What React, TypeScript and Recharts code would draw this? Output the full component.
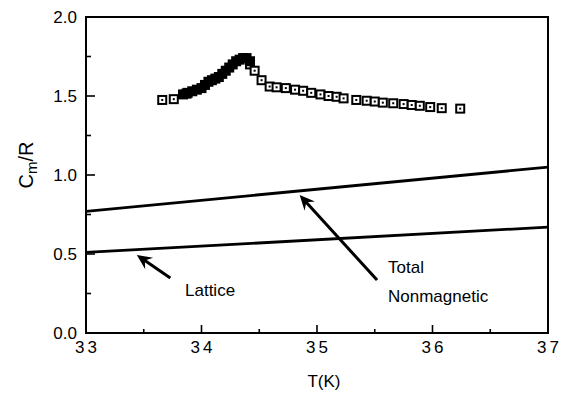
import {
  ComposedChart,
  Line,
  Scatter,
  XAxis,
  YAxis,
  ReferenceArea,
  ReferenceLine,
} from "recharts";

// open squares (T in K, Cm/R)
const openT = [
  33.66, 33.76, 33.87, 34.42, 34.46, 34.52, 34.59, 34.65, 34.73, 34.81, 34.88,
  34.95, 35.03, 35.1, 35.17, 35.23, 35.34, 35.43, 35.5, 35.57, 35.66, 35.75,
  35.82, 35.89, 35.98, 36.08, 36.24,
];
const openC = [
  1.475, 1.48, 1.515, 1.7, 1.66, 1.6, 1.56, 1.555, 1.55, 1.54, 1.533, 1.52,
  1.51, 1.5, 1.495, 1.485, 1.475, 1.47, 1.465, 1.458, 1.454, 1.449, 1.443,
  1.438, 1.43, 1.423, 1.42,
];

// filled squares
const filledT = [
  33.84, 33.88, 33.92, 33.96, 34.0, 34.03, 34.06, 34.09, 34.12, 34.15, 34.18,
  34.21, 34.24, 34.27, 34.3, 34.33, 34.36, 34.39, 34.42,
];
const filledC = [
  1.51, 1.52, 1.53, 1.54, 1.55, 1.57, 1.59, 1.6, 1.61, 1.62, 1.64, 1.66, 1.68,
  1.7, 1.72, 1.73, 1.74, 1.74, 1.72,
];

// straight lines
const lineT = [33, 37];
const totalC = [0.77, 1.05];
const latticeC = [0.51, 0.67];

const xTicks = [33, 33.5, 34, 34.5, 35, 35.5, 36, 36.5, 37];
const yTicks = [0, 0.25, 0.5, 0.75, 1, 1.25, 1.5, 1.75, 2];

// annotation arrows: tail -> head
const latticeArrow = [
  { x: 33.73, y: 0.348 },
  { x: 33.44, y: 0.494 },
];
const totalArrow = [
  { x: 35.52, y: 0.335 },
  { x: 34.85, y: 0.873 },
];

const zip = (t: number[], c: number[]) => t.map((T, i) => ({ T, C: c[i] }));
const openData = zip(openT, openC);
const filledData = zip(filledT, filledC);
const totalData = zip(lineT, totalC);
const latticeData = zip(lineT, latticeC);

const FONT = "'Liberation Sans', Arial, sans-serif";

const XTick = (props: any) => {
  const { x, y, payload } = props;
  const v = payload.value;
  const major = Number.isInteger(v);
  return (
    <g>
      <line x1={x} x2={x} y1={y} y2={y - (major ? 8 : 4)} stroke="#000" strokeWidth={1.6} />
      {major && (
        <text x={x + 1.5} y={y + 20} textAnchor="middle" fontSize={17} letterSpacing={3} fontFamily={FONT} fill="#000">
          {v}
        </text>
      )}
    </g>
  );
};

const YTick = (props: any) => {
  const { x, y, payload } = props;
  const v = payload.value;
  const major = Math.abs(v * 2 - Math.round(v * 2)) < 1e-6;
  return (
    <g>
      <line x1={x} x2={x + (major ? 9 : 5)} y1={y} y2={y} stroke="#000" strokeWidth={1.6} />
      {major && (
        <text x={x - 9} y={y + 6} textAnchor="end" fontSize={17} fontFamily={FONT} fill="#000">
          {v.toFixed(1)}
        </text>
      )}
    </g>
  );
};

const OpenSquare = (p: any) => (
  <g>
    <rect x={p.cx - 4} y={p.cy - 4} width={8} height={8} fill="#fff" stroke="#000" strokeWidth={2} />
    <rect x={p.cx - 1} y={p.cy - 1} width={2} height={2} fill="#000" />
  </g>
);

const FilledSquare = (p: any) => (
  <rect x={p.cx - 5} y={p.cy - 5} width={10} height={10} fill="#000" />
);

const Arrow = (p: any) => {
  const { x1, y1, x2, y2 } = p;
  const dx = x2 - x1;
  const dy = y2 - y1;
  const len = Math.hypot(dx, dy) || 1;
  const ux = dx / len;
  const uy = dy / len;
  const hl = 15;
  const hw = 7;
  const bx = x2 - ux * hl;
  const by = y2 - uy * hl;
  const nx = -uy;
  const ny = ux;
  const pts = `${x2},${y2} ${bx + nx * hw},${by + ny * hw} ${x2 - ux * hl * 0.65},${y2 - uy * hl * 0.65} ${bx - nx * hw},${by - ny * hw}`;
  return (
    <g>
      <line x1={x1} y1={y1} x2={x2 - ux * 8} y2={y2 - uy * 8} stroke="#000" strokeWidth={3} />
      <polygon points={pts} fill="#000" />
    </g>
  );
};

const textStyle = {
  position: "absolute" as const,
  fontFamily: FONT,
  fontSize: 17,
  color: "#000",
  lineHeight: "20px",
  whiteSpace: "nowrap" as const,
};

export default function App() {
  return (
    <div style={{ position: "absolute", left: 0, top: 0, width: 561, height: 396, background: "#fff" }}>
      <ComposedChart
        width={561}
        height={396}
        margin={{ top: 17, right: 13, bottom: 0, left: 0 }}
      >
        <XAxis
          type="number"
          dataKey="T"
          domain={[33, 37]}
          ticks={xTicks}
          interval={0}
          height={63}
          tickSize={0}
          tickMargin={0}
          axisLine={false}
          tickLine={false}
          tick={XTick}
          allowDataOverflow
        />
        <YAxis
          type="number"
          dataKey="C"
          domain={[0, 2]}
          ticks={yTicks}
          interval={0}
          width={86}
          tickSize={0}
          tickMargin={0}
          axisLine={false}
          tickLine={false}
          tick={YTick}
          allowDataOverflow
        />
        <ReferenceArea x1={33} x2={37} y1={0} y2={2} fill="none" stroke="#000" strokeWidth={2} fillOpacity={0} />
        <Line data={totalData} dataKey="C" stroke="#000" strokeWidth={2.8} dot={false} isAnimationActive={false} />
        <Line data={latticeData} dataKey="C" stroke="#000" strokeWidth={2.8} dot={false} isAnimationActive={false} />
        <Scatter data={openData} dataKey="C" shape={OpenSquare} isAnimationActive={false} />
        <Scatter data={filledData} dataKey="C" shape={FilledSquare} isAnimationActive={false} />
        <ReferenceLine segment={latticeArrow} shape={Arrow} />
        <ReferenceLine segment={totalArrow} shape={Arrow} />
      </ComposedChart>
      <div style={{ ...textStyle, fontSize: 20, left: 29, top: 165, transform: "translate(-50%, -50%) rotate(-90deg)" }}>
        C<sub style={{ fontSize: 15, verticalAlign: -4 }}>m</sub>/R
      </div>
      <div style={{ ...textStyle, left: 324, top: 382, transform: "translate(-50%, -50%)" }}>T(K)</div>
      <div style={{ ...textStyle, left: 185, top: 291, transform: "translateY(-50%)" }}>Lattice</div>
      <div style={{ ...textStyle, left: 388, top: 268, transform: "translateY(-50%)" }}>Total</div>
      <div style={{ ...textStyle, left: 388, top: 297, transform: "translateY(-50%)" }}>Nonmagnetic</div>
    </div>
  );
}
